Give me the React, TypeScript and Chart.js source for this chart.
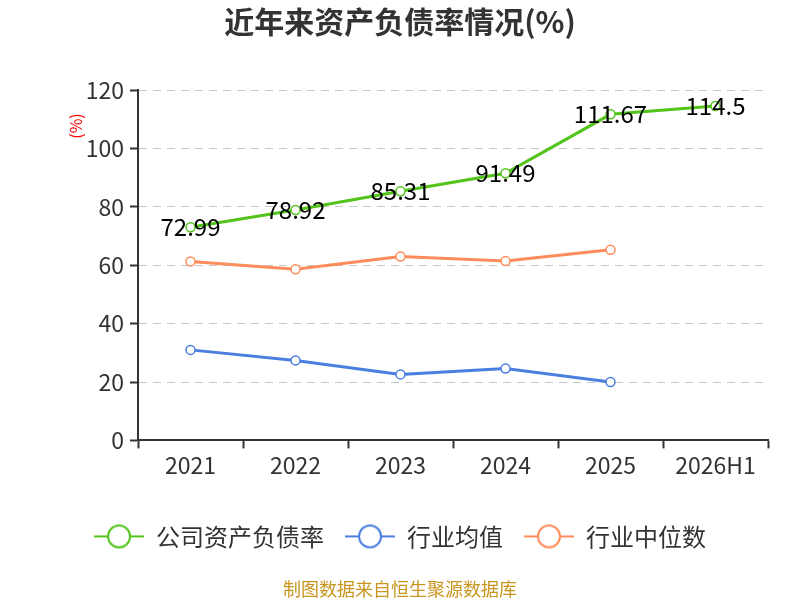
import React, { useEffect, useRef } from "react";
import Chart from "chart.js/auto";

const years = ["2021", "2022", "2023", "2024", "2025", "2026H1"];
const companyRate = [72.99, 78.92, 85.31, 91.49, 111.67, 114.5];
const industryAvg = [31.0, 27.4, 22.6, 24.6, 20.0, null];
const industryMedian = [61.3, 58.6, 63.0, 61.4, 65.3, null];

const seriesNames = ["公司资产负债率", "行业均值", "行业中位数"];
const seriesColors = ["#52c41a", "#4a7fe0", "#ff8c5a"];

const FONT = "'Noto Sans CJK SC', 'Noto Sans', sans-serif";

function makeIcon(color: string) {
  const c = document.createElement("canvas");
  c.width = 50;
  c.height = 26;
  const ctx = c.getContext("2d");
  if (ctx) {
    ctx.strokeStyle = color;
    ctx.lineWidth = 2;
    ctx.beginPath();
    ctx.moveTo(0, 13);
    ctx.lineTo(50, 13);
    ctx.stroke();
    ctx.beginPath();
    ctx.arc(25, 13, 11, 0, Math.PI * 2);
    ctx.fillStyle = "#fff";
    ctx.fill();
    ctx.stroke();
  }
  return c;
}

const overlayText = {
  id: "overlayText",
  afterDatasetsDraw(chart: any) {
    const { ctx } = chart;
    const meta = chart.getDatasetMeta(0);
    ctx.save();
    ctx.textAlign = "center";
    ctx.textBaseline = "middle";
    // title
    ctx.font = `bold 30px ${FONT}`;
    ctx.fillStyle = "#333";
    ctx.fillText("近年来资产负债率情况(%)", 400, 22);
    // value labels
    ctx.font = `24px ${FONT}`;
    ctx.fillStyle = "#000";
    meta.data.forEach((pt: any, i: number) => {
      ctx.fillText(String(companyRate[i]), pt.x, pt.y);
    });
    // unit label on the left
    ctx.translate(76, 126);
    ctx.rotate(-Math.PI / 2);
    ctx.font = `16px ${FONT}`;
    ctx.fillStyle = "#ff0000";
    ctx.fillText("(%)", 0, 0);
    ctx.restore();
  },
};

const App: React.FC = () => {
  const chartRef = useRef<HTMLCanvasElement | null>(null);

  useEffect(() => {
    document.body.style.margin = "0";
    if (!chartRef.current) return;
    const ctx = chartRef.current.getContext("2d");
    if (!ctx) return;

    const icons = seriesColors.map((c) => makeIcon(c));
    const data = [companyRate, industryAvg, industryMedian];

    const chart = new Chart(ctx, {
      type: "line",
      data: {
        labels: years,
        datasets: data.map((d, i) => ({
          label: seriesNames[i],
          data: d,
          yAxisID: "y",
          borderColor: seriesColors[i],
          backgroundColor: "#fff",
          pointBackgroundColor: "#fff",
          pointBorderColor: seriesColors[i],
          pointBorderWidth: 1.5,
          pointRadius: 4.5,
          borderWidth: 3,
          tension: 0,
        })),
      },
      options: {
        responsive: false,
        animation: false,
        layout: { padding: { left: 0, right: 0, top: 90, bottom: 0 } },
        plugins: {
          title: { display: false },
          legend: {
            position: "bottom",
            labels: {
              usePointStyle: true,
              pointStyleWidth: 50,
              padding: 21,
              color: "#333",
              font: { family: FONT, size: 24 },
              generateLabels: (c: any) =>
                Chart.defaults.plugins.legend.labels
                  .generateLabels(c)
                  .map((l: any, i: number) => ({ ...l, pointStyle: icons[i] })),
            },
          },
          subtitle: {
            display: true,
            position: "bottom",
            text: "制图数据来自恒生聚源数据库",
            color: "#c8961e",
            font: { family: FONT, size: 18 },
            padding: { top: 20, bottom: 0 },
          },
          tooltip: { enabled: false },
        },
        scales: {
          x: {
            offset: true,
            afterFit: (s: any) => {
              s.height = 63;
            },
            grid: {
              offset: true,
              drawOnChartArea: false,
              tickColor: "#333",
              tickLength: 8,
              tickWidth: 2,
            },
            border: { color: "#333", width: 2 },
            ticks: {
              color: "#333",
              font: { family: FONT, size: 23 },
              padding: 3,
            },
          },
          y: {
            min: 0,
            max: 120,
            afterFit: (s: any) => {
              s.width = 138;
            },
            grid: {
              color: "#c8c8c8",
              tickColor: "#333",
              tickLength: 8,
              tickWidth: 2,
            },
            border: { color: "#333", width: 2, dash: [8, 6] },
            ticks: {
              stepSize: 20,
              color: "#333",
              font: { family: FONT, size: 23 },
              padding: 6,
            },
          },
          // empty right-hand axis that only reserves the margin
          yRight: {
            type: "linear",
            position: "right",
            afterFit: (s: any) => {
              s.width = 32;
            },
            grid: { display: false },
            border: { display: false },
            ticks: { display: false },
          },
        },
      },
      plugins: [overlayText],
    });

    return () => {
      chart.destroy();
    };
  }, []);

  return (
    <div style={{ width: 800, height: 600 }}>
      <canvas ref={chartRef} width={800} height={600} />
    </div>
  );
};

export default App;
